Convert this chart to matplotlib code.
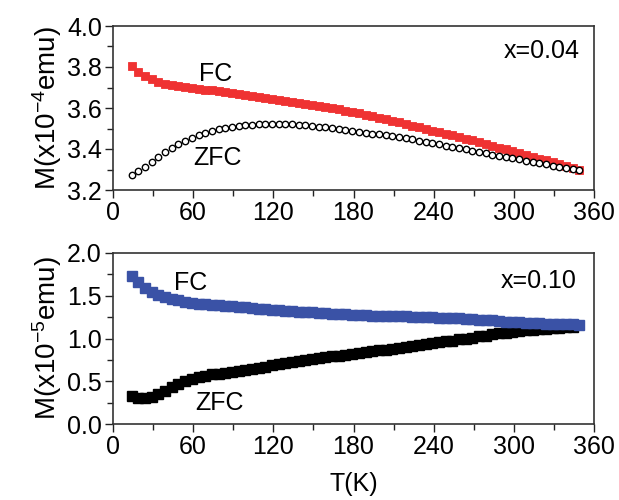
import matplotlib

matplotlib.use("Agg")
import matplotlib.pyplot as plt
from matplotlib.ticker import FormatStrFormatter, MultipleLocator

plt.rcParams["font.family"] = ["Liberation Sans", "DejaVu Sans"]
plt.rcParams["mathtext.fontset"] = "custom"
plt.rcParams["mathtext.rm"] = "Liberation Sans"
plt.rcParams["mathtext.it"] = "Liberation Sans"

# --- data (T in K) ---
T = [14, 19, 24, 29, 34, 39, 44, 49, 54, 59, 64, 69, 74, 79, 84, 89, 94, 99,
     104, 109, 114, 119, 124, 129, 134, 139, 144, 149, 154, 159, 164, 169, 174,
     179, 184, 189, 194, 199, 204, 209, 214, 219, 224, 229, 234, 239, 244, 249,
     254, 259, 264, 269, 274, 279, 284, 289, 294, 299, 304, 309, 314, 319, 324,
     329, 334, 339, 344, 349]

# x = 0.04, units 1e-4 emu
fc_004 = [3.805, 3.775, 3.758, 3.742, 3.728, 3.718, 3.711, 3.706, 3.701, 3.697,
          3.694, 3.690, 3.687, 3.683, 3.679, 3.674, 3.669, 3.664, 3.660, 3.656,
          3.651, 3.646, 3.641, 3.636, 3.631, 3.626, 3.620, 3.615, 3.610, 3.604,
          3.598, 3.593, 3.587, 3.580, 3.574, 3.567, 3.560, 3.553, 3.545, 3.538,
          3.530, 3.522, 3.514, 3.506, 3.498, 3.490, 3.482, 3.474, 3.466, 3.458,
          3.450, 3.442, 3.434, 3.425, 3.416, 3.407, 3.398, 3.389, 3.380, 3.371,
          3.362, 3.353, 3.344, 3.335, 3.326, 3.317, 3.308, 3.300]
zfc_004 = [3.273, 3.292, 3.314, 3.338, 3.362, 3.384, 3.404, 3.422, 3.438, 3.453,
           3.466, 3.478, 3.488, 3.497, 3.504, 3.509, 3.513, 3.516, 3.518, 3.520,
           3.521, 3.522, 3.522, 3.521, 3.520, 3.518, 3.515, 3.512, 3.509, 3.505,
           3.501, 3.497, 3.493, 3.489, 3.484, 3.479, 3.475, 3.471, 3.467, 3.463,
           3.458, 3.453, 3.447, 3.441, 3.436, 3.430, 3.424, 3.417, 3.410, 3.404,
           3.398, 3.391, 3.385, 3.379, 3.373, 3.368, 3.362, 3.356, 3.350, 3.343,
           3.337, 3.331, 3.325, 3.319, 3.313, 3.307, 3.302, 3.297]

# x = 0.10, units 1e-5 emu
fc_010 = [1.73, 1.66, 1.59, 1.545, 1.51, 1.485, 1.465, 1.448, 1.432, 1.418,
          1.408, 1.400, 1.394, 1.389, 1.384, 1.378, 1.372, 1.366, 1.358, 1.349,
          1.342, 1.335, 1.328, 1.323, 1.318, 1.314, 1.309, 1.305, 1.300, 1.295,
          1.290, 1.285, 1.281, 1.278, 1.274, 1.271, 1.268, 1.265, 1.263, 1.262,
          1.260, 1.258, 1.256, 1.254, 1.251, 1.248, 1.245, 1.242, 1.238, 1.234,
          1.230, 1.226, 1.222, 1.218, 1.212, 1.205, 1.198, 1.192, 1.188, 1.184,
          1.180, 1.176, 1.173, 1.170, 1.168, 1.166, 1.164, 1.162]
zfc_010 = [0.33, 0.305, 0.30, 0.32, 0.355, 0.39, 0.43, 0.47, 0.505, 0.53,
           0.55, 0.565, 0.58, 0.59, 0.60, 0.61, 0.62, 0.63, 0.645, 0.655,
           0.67, 0.685, 0.70, 0.715, 0.73, 0.74, 0.75, 0.76, 0.77, 0.78,
           0.79, 0.80, 0.81, 0.82, 0.83, 0.84, 0.85, 0.86, 0.87, 0.88,
           0.89, 0.90, 0.91, 0.92, 0.935, 0.945, 0.955, 0.965, 0.975, 0.99,
           1.00, 1.01, 1.025, 1.035, 1.05, 1.06, 1.07, 1.08, 1.09, 1.10,
           1.105, 1.11, 1.115, 1.12, 1.125, 1.13, 1.135]

RED = "#EF3232"
BLUE = "#3A52A6"
FS = 18

fig = plt.figure(figsize=(6.19, 5.0), dpi=100)
ax1 = fig.add_axes([113 / 619, 1 - 190 / 500, 481 / 619, 164 / 500])
ax2 = fig.add_axes([113 / 619, 1 - 424 / 500, 481 / 619, 171 / 500])


def style(ax, ymaj, ymin):
    ax.set_xlim(0, 360)
    ax.xaxis.set_major_locator(MultipleLocator(60))
    ax.xaxis.set_minor_locator(MultipleLocator(30))
    ax.yaxis.set_major_locator(MultipleLocator(ymaj))
    ax.yaxis.set_minor_locator(MultipleLocator(ymin))
    ax.yaxis.set_major_formatter(FormatStrFormatter("%.1f"))
    ax.tick_params(which="both", direction="out", top=False, right=False,
                   labelsize=FS, width=1.0, color="#222")
    ax.tick_params(which="major", length=6, pad=2)
    ax.tick_params(which="minor", length=4)
    for s in ax.spines.values():
        s.set_linewidth(1.2)
        s.set_color("#333")


# top: x = 0.04
ax1.plot(T, fc_004, ls="none", marker="s", ms=6, mfc=RED, mec=RED, mew=0.6)
ax1.plot(T, zfc_004, ls="none", marker="o", ms=4.6, mfc="white", mec="black", mew=1.0)
ax1.set_ylim(3.2, 4.0)
style(ax1, 0.2, 0.1)
ax1.set_ylabel(r"M(x10$^{-4}$emu)", fontsize=20, labelpad=2)
ax1.text(77, 3.766, "FC", fontsize=FS, ha="center", va="center")
ax1.text(78, 3.354, "ZFC", fontsize=FS, ha="center", va="center")
ax1.text(349, 3.876, "x=0.04", fontsize=FS, ha="right", va="center")

# bottom: x = 0.10
ax2.plot(T[:len(zfc_010)], zfc_010, ls="none", marker="s", ms=7.5, mfc="black", mec="black")
ax2.plot(T, fc_010, ls="none", marker="s", ms=6.5, mfc=BLUE, mec=BLUE)
ax2.set_ylim(0.0, 2.0)
style(ax2, 0.5, 0.25)
ax2.set_ylabel(r"M(x10$^{-5}$emu)", fontsize=20, labelpad=2)
ax2.set_xlabel("T(K)", fontsize=FS, labelpad=9)
ax2.text(58, 1.649, "FC", fontsize=FS, ha="center", va="center")
ax2.text(80, 0.246, "ZFC", fontsize=FS, ha="center", va="center")
ax2.text(347, 1.672, "x=0.10", fontsize=FS, ha="right", va="center")

fig.savefig("out.png", dpi=100)
